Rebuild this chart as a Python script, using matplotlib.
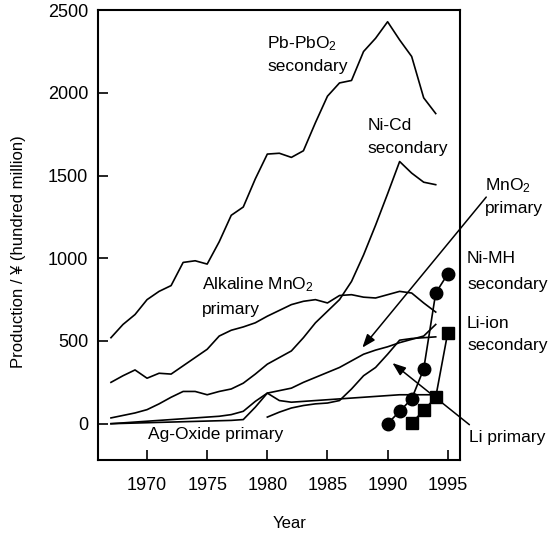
import matplotlib
matplotlib.use('Agg')
import matplotlib.pyplot as plt
import numpy as np

plt.rcParams['font.family'] = ['Liberation Sans', 'DejaVu Sans']
plt.rcParams['mathtext.fontset'] = 'custom'
plt.rcParams['mathtext.rm'] = 'Liberation Sans'
plt.rcParams['mathtext.default'] = 'regular'

# production in hundred million yen
years = np.arange(1967, 1995)
pb_pbo2 = [520, 600, 660, 750, 800, 835, 975, 985, 965, 1100, 1260, 1310, 1480, 1630,
           1635, 1610, 1650, 1820, 1980, 2060, 2075, 2250, 2330, 2430, 2320, 2220, 1970, 1875]
ni_cd = [35, 50, 65, 85, 120, 160, 195, 195, 175, 195, 210, 245, 300, 360,
         400, 440, 520, 610, 680, 750, 860, 1020, 1200, 1390, 1585, 1515, 1460, 1445]
alkaline = [250, 290, 325, 275, 305, 300, 350, 400, 450, 530, 565, 585, 610, 650,
            685, 720, 740, 750, 730, 775, 780, 765, 760, 780, 800, 790, 730, 675]
mno2 = [0, 5, 10, 15, 20, 25, 30, 35, 40, 45, 55, 75, 135, 185,
        200, 215, 250, 280, 310, 340, 380, 420, 445, 465, 490, 510, 530, 600]
ag_oxide = [0, 2, 4, 6, 8, 10, 12, 14, 16, 18, 20, 25, 100, 185,
            140, 130, 135, 140, 145, 150, 155, 160, 165, 170, 175, 175, 175, 175]

li_years = np.arange(1980, 1995)
li_primary = [40, 70, 95, 110, 120, 125, 140, 210, 290, 340, 420, 505, 515, 520, 525]

nimh_years = np.arange(1990, 1996)
ni_mh = [0, 75, 150, 330, 790, 905]

liion_years = np.arange(1992, 1996)
li_ion = [5, 80, 160, 550]

fig = plt.figure(figsize=(5.48, 5.35), dpi=100)
ax = fig.add_axes([0.179, 0.140, 0.660, 0.841])

lw = 1.2
for vals in [pb_pbo2, ni_cd, alkaline, mno2, ag_oxide]:
    ax.plot(years, vals, color='black', lw=lw)
ax.plot(li_years, li_primary, color='black', lw=lw)
ax.plot(nimh_years, ni_mh, color='black', lw=lw, marker='o', markersize=9)
ax.plot(liion_years, li_ion, color='black', lw=lw, marker='s', markersize=8)

ax.set_xlim(1965.93, 1996)
ax.set_ylim(-220, 2500)
ax.set_xticks(np.arange(1970, 1996, 5))
ax.set_yticks(np.arange(0, 2501, 500))
ax.tick_params(direction='in', length=7, width=1.2, labelsize=13)
ax.tick_params(axis='x', pad=12)
ax.tick_params(axis='y', pad=7)
for s in ax.spines.values():
    s.set_linewidth(1.5)

ax.set_xlabel('Year', fontsize=12)
ax.set_ylabel('Production / ¥ (hundred million)', fontsize=12)
ax.xaxis.set_label_coords(0.53, -0.125)
ax.yaxis.set_label_coords(-0.2, 0.464)

fs = 12.5
labels = [
    (1980.0, 2300, 'Pb-PbO$_2$'), (1980.0, 2160, 'secondary'),
    (1988.3, 1805, 'Ni-Cd'), (1988.3, 1665, 'secondary'),
    (1998.1, 1440, 'MnO$_2$'), (1998.1, 1300, 'primary'),
    (1996.6, 1000, 'Ni-MH'), (1996.6, 840, 'secondary'),
    (1996.6, 608, 'Li-ion'), (1996.6, 470, 'secondary'),
    (1996.8, -84, 'Li primary'),
    (1974.6, 840, 'Alkaline MnO$_2$'), (1974.6, 690, 'primary'),
    (1970.1, -68, 'Ag-Oxide primary'),
]
for x, y, t in labels:
    ax.text(x, y, t, fontsize=fs, ha='left', va='center')

arrow = dict(arrowstyle='-|>,head_length=0.8,head_width=0.3', color='black',
             lw=1.1, shrinkA=0, shrinkB=0)
ax.annotate('', xy=(1987.9, 460), xytext=(1998.2, 1370), arrowprops=arrow,
            annotation_clip=False)
ax.annotate('', xy=(1990.4, 367), xytext=(1996.8, -6), arrowprops=arrow,
            annotation_clip=False)

fig.savefig('out.png', dpi=100)
